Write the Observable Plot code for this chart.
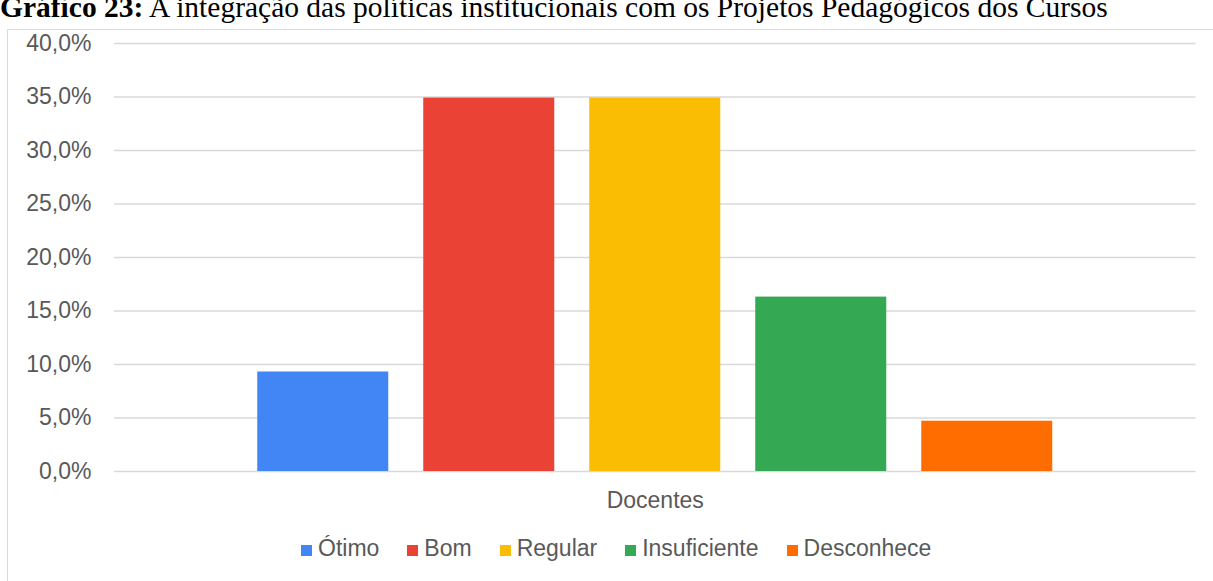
<!DOCTYPE html>
<html>
<head>
<meta charset="utf-8">
<script src="https://cdn.jsdelivr.net/npm/d3@7"></script>
<script src="https://cdn.jsdelivr.net/npm/@observablehq/plot@0.6"></script>
<style>
  html, body { margin: 0; padding: 0; background: #fff; overflow: hidden; width: 1213px; height: 581px; }
  body { position: relative; font-family: "Liberation Sans", Arial, sans-serif; }
  #title { position: absolute; left: 0; top: -7px; font-family: "Liberation Serif", "Times New Roman", serif; font-size: 29.5px; line-height: 29.5px; color: #000; white-space: nowrap; }
  #box { position: absolute; left: 7px; top: 29px; width: 1240px; height: 600px; border: 1px solid #d9d9d9; box-sizing: border-box; }
  #chart { position: absolute; left: 0; top: 29px; }
  #legend { position: absolute; left: 301px; top: 533px; display: flex; gap: 28px; font-size: 23px; color: #595959; white-space: nowrap; line-height: 30px; font-variant-ligatures: none; }
  #legend .sw { display: inline-block; width: 11px; height: 11px; margin-right: 6px; vertical-align: baseline; }
</style>
</head>
<body>
<div id="title"><b>Gráfico 23:</b> A integração das políticas institucionais com os Projetos Pedagógicos dos Cursos</div>
<div id="box"></div>
<div id="chart"></div>
<div id="legend"></div>
<script>
const categories = ["Ótimo", "Bom", "Regular", "Insuficiente", "Desconhece"];
const values = [9.3, 34.9, 34.9, 16.3, 4.7];
const colors = ["#4285F4", "#EA4335", "#FBBC04", "#34A853", "#FF6D01"];
const group = "Docentes";
const yTicks = [0, 5, 10, 15, 20, 25, 30, 35, 40];

const data = categories.map((c, i) => ({cat: c, value: values[i]}));
const fmt = d => d.toFixed(1).replace(".", ",") + "%";

const chart = Plot.plot({
  width: 1213,
  height: 495,
  marginLeft: 114,
  marginRight: 17.5,
  marginTop: 14,
  marginBottom: 53,
  style: {fontSize: "23px", fontFamily: "'Liberation Sans', Arial, sans-serif", color: "#595959", background: "transparent", overflow: "visible"},
  x: {domain: categories, paddingInner: 0.2108, paddingOuter: 0.863, round: false, axis: null},
  y: {domain: [0, 40], ticks: yTicks, tickFormat: fmt, tickSize: 0, tickPadding: 23, label: null},
  color: {domain: categories, range: colors},
  marks: [
    Plot.gridY(yTicks, {stroke: "#d9d9d9", strokeOpacity: 1, strokeWidth: 1.4}),
    Plot.barY(data, {x: "cat", y: "value", fill: "cat"}),
    Plot.text([group], {text: d => d, frameAnchor: "bottom", lineAnchor: "bottom", dy: 36, fill: "#595959"})
  ]
});
document.getElementById("chart").appendChild(chart);

const legend = document.getElementById("legend");
categories.forEach((c, i) => {
  const item = document.createElement("span");
  const sw = document.createElement("span");
  sw.className = "sw";
  sw.style.background = colors[i];
  item.appendChild(sw);
  item.appendChild(document.createTextNode(c));
  legend.appendChild(item);
});
</script>
</body>
</html>
